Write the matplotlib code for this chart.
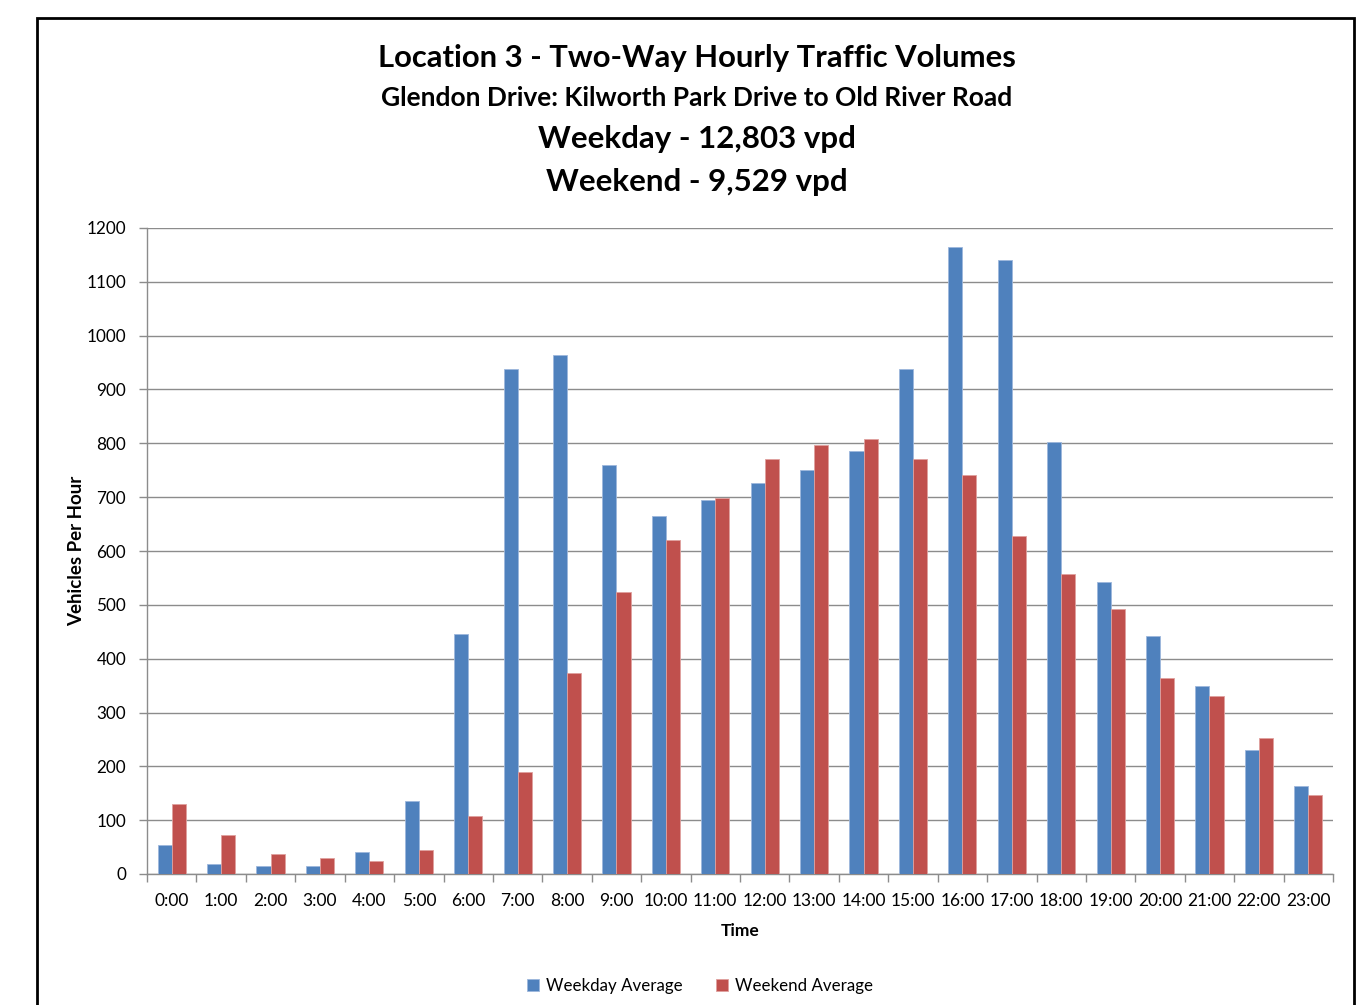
"""
Location 3 — двусторонняя почасовая интенсивность движения.
Будни vs выходные, сгруппированные столбцы.

Вывод: out.png
"""

import matplotlib
matplotlib.use("Agg")
import matplotlib.pyplot as plt
import numpy as np
from matplotlib.patches import Rectangle

plt.rcParams["font.family"] = ["Lato", "DejaVu Sans"]

# Данные
hours = [f"{h}:00" for h in range(24)]
weekday_avg = [54, 18, 14, 14, 40, 136, 446, 939, 965, 759, 665, 694,
               727, 750, 785, 939, 1164, 1140, 802, 543, 443, 349, 231, 164]
weekend_avg = [130, 72, 38, 30, 24, 45, 107, 189, 374, 524, 620, 699,
               770, 796, 808, 770, 742, 628, 558, 493, 364, 330, 252, 146]

BLUE = "#4F81BD"
RED = "#C0504D"
GRID = "#8C8C8C"

W, H = 1356, 1005
fig = plt.figure(figsize=(W / 100, H / 100), dpi=100)
ax = fig.add_axes([147 / W, 1 - 874 / H, (1333 - 147) / W, (874 - 228) / H])

x = np.arange(len(hours))
bw = 0.285
ax.bar(x - bw / 2, weekday_avg, bw, color=BLUE, edgecolor="#9DB7DC", linewidth=0.6,
       label="Weekday Average", zorder=3)
ax.bar(x + bw / 2, weekend_avg, bw, color=RED, edgecolor="#E0A09E", linewidth=0.6,
       label="Weekend Average", zorder=3)

ax.set_xlim(-0.5, len(hours) - 0.5)
ax.set_ylim(0, 1200)
ax.set_yticks(range(0, 1201, 100))
ax.set_xticks(x)
ax.set_xticklabels(hours, fontsize=12.5)
ax.tick_params(axis="x", length=0, pad=14)
ax.set_xticks(np.arange(-0.5, len(hours)), minor=True)
ax.tick_params(axis="x", which="minor", length=6, color=GRID, width=1)
ax.tick_params(axis="y", labelsize=12.3, length=6, color=GRID, width=1, pad=9)

ax.grid(axis="y", color=GRID, linewidth=1, zorder=0)
for s in ["top", "right"]:
    ax.spines[s].set_visible(False)
for s in ["left", "bottom"]:
    ax.spines[s].set_color(GRID)
    ax.spines[s].set_linewidth(1)

ax.set_xlabel("Time", fontsize=12.5, fontweight="bold", labelpad=10)
ax.set_ylabel("Vehicles Per Hour", fontsize=13.5, fontweight="bold", labelpad=1)

# Заголовки
fig.text(0.5137, 1 - 58 / H, "Location 3 - Two-Way Hourly Traffic Volumes",
         ha="center", va="center", fontsize=22.3, fontweight="bold")
fig.text(0.5137, 1 - 98 / H, "Glendon Drive: Kilworth Park Drive to Old River Road",
         ha="center", va="center", fontsize=19, fontweight="bold")
fig.text(0.5137, 1 - 139 / H, "Weekday - 12,803 vpd",
         ha="center", va="center", fontsize=22.5, fontweight="bold")
fig.text(0.5137, 1 - 182 / H, "Weekend - 9,529 vpd",
         ha="center", va="center", fontsize=22.5, fontweight="bold")

fig.legend(loc="center", bbox_to_anchor=(700 / W, 1 - 986 / H), ncol=2, frameon=False,
           fontsize=12.2, handlelength=0.7, handleheight=0.7, handletextpad=0.4,
           columnspacing=2.0)

# Рамка диаграммы
fig.add_artist(Rectangle((37 / W, -0.05), (1354 - 37) / W, 1 - 18 / H + 0.05,
                         transform=fig.transFigure, fill=False, edgecolor="black",
                         linewidth=2))

fig.savefig("out.png", dpi=100)
